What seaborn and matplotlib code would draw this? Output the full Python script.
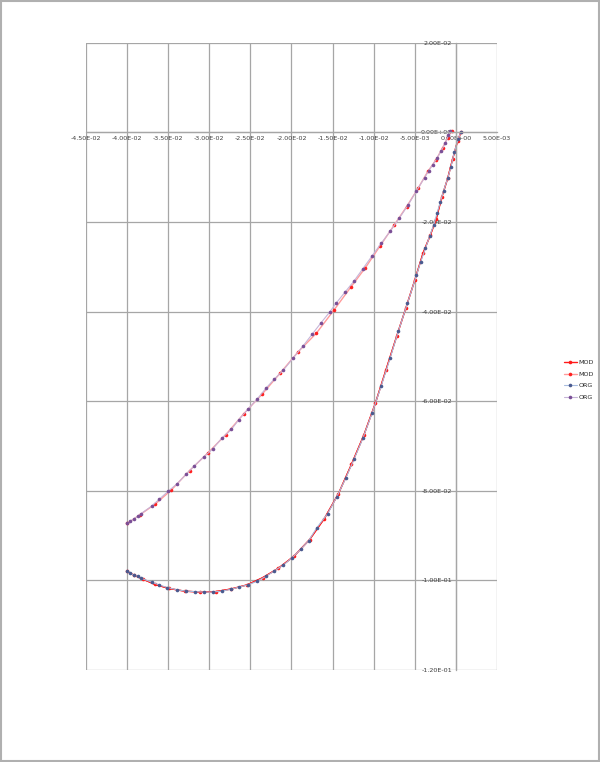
import matplotlib
matplotlib.use('Agg')
import matplotlib.pyplot as plt
import matplotlib.ticker as mticker
from matplotlib.patches import Rectangle
import seaborn as sns

# lower curve (ORG), from the nose round to the left end
org_low_x = [0.0006, 0.0003, -0.0002, -0.0006, -0.0010, -0.0015, -0.0019, -0.0023, -0.0027,
             -0.0032, -0.0037, -0.0043, -0.0048, -0.0059, -0.0070, -0.0080, -0.0091, -0.0102,
             -0.0113, -0.0124, -0.0134, -0.0145, -0.0156, -0.0169, -0.0179, -0.0188, -0.0199,
             -0.0210, -0.0221, -0.0231, -0.0242, -0.0253, -0.0264, -0.0274, -0.0285, -0.0296,
             -0.0307, -0.0317, -0.0328, -0.0339, -0.0351, -0.0361, -0.0370, -0.0383, -0.0387,
             -0.0392, -0.0396, -0.0400]
org_low_y = [0.0000, -0.0014, -0.0045, -0.0077, -0.0103, -0.0131, -0.0156, -0.0181, -0.0207,
             -0.0232, -0.0259, -0.0290, -0.0319, -0.0382, -0.0444, -0.0504, -0.0567, -0.0627,
             -0.0682, -0.0730, -0.0772, -0.0814, -0.0851, -0.0882, -0.0911, -0.0929, -0.0949,
             -0.0966, -0.0979, -0.0991, -0.1002, -0.1010, -0.1015, -0.1020, -0.1024, -0.1026,
             -0.1026, -0.1025, -0.1024, -0.1021, -0.1016, -0.1010, -0.1004, -0.0995, -0.0991,
             -0.0988, -0.0984, -0.0980]

# upper curve (ORG)
org_up_x = [-0.0007, -0.0009, -0.0013, -0.0018, -0.0023, -0.0028, -0.0033, -0.0038, -0.0048,
            -0.0058, -0.0069, -0.0080, -0.0091, -0.0102, -0.0113, -0.0124, -0.0135, -0.0146,
            -0.0153, -0.0164, -0.0175, -0.0186, -0.0198, -0.0210, -0.0221, -0.0231, -0.0242,
            -0.0253, -0.0264, -0.0273, -0.0285, -0.0296, -0.0307, -0.0318, -0.0328, -0.0339,
            -0.0350, -0.0361, -0.0370, -0.0383, -0.0387, -0.0392, -0.0396, -0.0400]
org_up_y = [0.0004, -0.0007, -0.0025, -0.0042, -0.0058, -0.0072, -0.0086, -0.0101, -0.0131,
            -0.0162, -0.0192, -0.0221, -0.0248, -0.0276, -0.0304, -0.0332, -0.0357, -0.0382,
            -0.0400, -0.0425, -0.0451, -0.0477, -0.0504, -0.0531, -0.0551, -0.0571, -0.0596,
            -0.0618, -0.0641, -0.0663, -0.0683, -0.0707, -0.0725, -0.0744, -0.0763, -0.0784,
            -0.0801, -0.0819, -0.0834, -0.0851, -0.0857, -0.0863, -0.0868, -0.0873]

# modified profile, nearly on top of the original
mod_low_x = [0.0006, 0.0002, -0.0004, -0.0010, -0.0017, -0.0024, -0.0031, -0.0040, -0.0050,
             -0.0061, -0.0072, -0.0085, -0.0098, -0.0112, -0.0127, -0.0143, -0.0160, -0.0178,
             -0.0197, -0.0216, -0.0235, -0.0254, -0.0273, -0.0292, -0.0311, -0.0330, -0.0349,
             -0.0366, -0.0381, -0.0392, -0.0400]
mod_low_y = [0.0000, -0.0020, -0.0060, -0.0103, -0.0144, -0.0194, -0.0229, -0.0270, -0.0330,
             -0.0393, -0.0455, -0.0530, -0.0605, -0.0676, -0.0741, -0.0807, -0.0862, -0.0909,
             -0.0946, -0.0973, -0.0994, -0.1010, -0.1019, -0.1025, -0.1026, -0.1024, -0.1018,
             -0.1009, -0.0997, -0.0988, -0.0980]
mod_up_x = [-0.0005, -0.0010, -0.0016, -0.0024, -0.0034, -0.0046, -0.0060, -0.0075, -0.0092,
            -0.0110, -0.0128, -0.0148, -0.0170, -0.0192, -0.0214, -0.0236, -0.0258, -0.0280,
            -0.0302, -0.0324, -0.0346, -0.0366, -0.0384, -0.0400]
mod_up_y = [0.0004, -0.0012, -0.0034, -0.0061, -0.0087, -0.0125, -0.0166, -0.0207, -0.0253,
            -0.0302, -0.0346, -0.0396, -0.0449, -0.0490, -0.0538, -0.0585, -0.0628, -0.0675,
            -0.0716, -0.0755, -0.0798, -0.0830, -0.0853, -0.0873]

x_ticks = [-0.045, -0.040, -0.035, -0.030, -0.025, -0.020, -0.015, -0.010, -0.005, 0.0, 0.005]
y_ticks = [0.02, 0.0, -0.02, -0.04, -0.06, -0.08, -0.10, -0.12]

sns.set_style('white')
plt.rcParams['font.family'] = ['DejaVu Sans']

fig = plt.figure(figsize=(6, 7.62), dpi=100)
ax = fig.add_axes([0.1433, 0.1207, 0.685, 0.8233])

grid_c = '#a6a6a6'
for v in x_ticks:
    ax.axvline(v, color=grid_c, lw=0.9, zorder=0)
for v in y_ticks:
    ax.axhline(v, color=grid_c, lw=0.9, zorder=0)

sns.lineplot(x=mod_low_x, y=mod_low_y, sort=False, ax=ax, color='#ff1a1a', lw=1.0,
             marker='o', markersize=2.6, markeredgewidth=0, label='MOD')
sns.lineplot(x=mod_up_x, y=mod_up_y, sort=False, ax=ax, color='#ff9a9a', lw=1.0,
             marker='o', markersize=2.6, markeredgewidth=0, markerfacecolor='#ff2020',
             label='MOD')
sns.lineplot(x=org_low_x, y=org_low_y, sort=False, ax=ax, color='#a8bde0', lw=0.8,
             marker='o', markersize=2.6, markeredgewidth=0, markerfacecolor='#4a5a8f',
             label='ORG')
sns.lineplot(x=org_up_x, y=org_up_y, sort=False, ax=ax, color='#c6b4d8', lw=0.8,
             marker='o', markersize=2.6, markeredgewidth=0, markerfacecolor='#7a4f96',
             label='ORG')
# red line of the modified lower side sits on top of the blue one
ax.plot(mod_low_x, mod_low_y, color='#ff1a1a', lw=0.9, zorder=1.5)

ax.set_xlim(-0.045, 0.005)
ax.set_ylim(-0.12, 0.02)
ax.set_xticks(x_ticks)
ax.set_yticks(y_ticks)
fmt = mticker.FuncFormatter(lambda v, p: '%.2E' % v)
ax.xaxis.set_major_formatter(fmt)
ax.yaxis.set_major_formatter(fmt)

for s in ['top', 'right']:
    ax.spines[s].set_visible(False)
ax.spines['left'].set_position(('data', 0))
ax.spines['bottom'].set_position(('data', 0))
for s in ['left', 'bottom']:
    ax.spines[s].set_color(grid_c)
    ax.spines[s].set_linewidth(0.9)
ax.tick_params(axis='both', labelsize=4.6, length=3, width=0.8, color=grid_c,
               direction='inout', pad=1.2, labelcolor='#404040')
ax.set_xlabel('')
ax.set_ylabel('')

ax.legend(loc='center left', bbox_to_anchor=(1.163, 0.4625), frameon=False, fontsize=4.6,
          handlelength=2.0, labelspacing=0.95, handletextpad=0.3, borderaxespad=0,
          borderpad=0)

fig.patches.append(Rectangle((0.0015, 0.0015), 0.997, 0.997, transform=fig.transFigure,
                             fill=False, edgecolor='#b0b0b0', lw=1.5))

fig.savefig('out.png', dpi=100)
